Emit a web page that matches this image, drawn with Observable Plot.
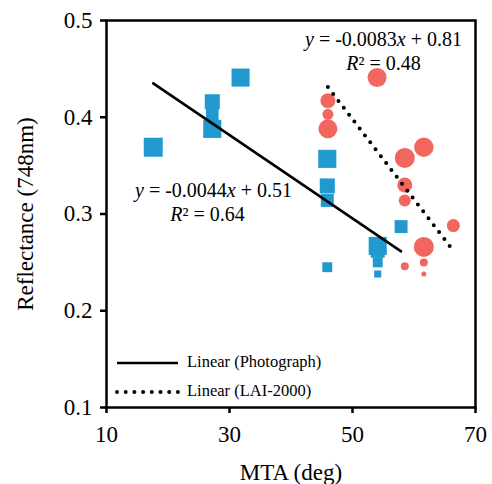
<!DOCTYPE html>
<html><head><meta charset="utf-8">
<script src="https://cdn.jsdelivr.net/npm/d3@7"></script>
<script src="https://cdn.jsdelivr.net/npm/@observablehq/plot@0.6"></script>
<style>
body{margin:0;background:#fff;}
#wrap{position:relative;width:492px;height:484px;font-family:"Liberation Serif","Times New Roman",serif;color:#000;}
#legend{position:absolute;left:115px;top:348px;font-size:16.5px;line-height:1;}
#legend .row{display:flex;align-items:center;height:29px;white-space:nowrap;}
#legend svg{width:66px;height:8px;margin-right:6px;overflow:visible;}
</style></head><body><div id="wrap"></div>
<script>
// Photograph series (blue squares)
const photoMTA   = [17.6, 27.2, 27.2, 27.2, 31.8, 45.9, 45.9, 45.9, 45.9, 54.1, 54.1, 54.1, 54.1, 57.9];
const photoRefl  = [0.369, 0.416, 0.403, 0.388, 0.441, 0.357, 0.329, 0.314, 0.245, 0.267, 0.262, 0.250, 0.238, 0.287];
const photoWeight= [10.7, 8.5, 7.1, 10.2, 10.2, 10.2, 8.5, 7.3, 5.6, 10.2, 7.9, 5.6, 4.0, 7.3];
// LAI-2000 series (red circles)
const laiMTA     = [54.0, 46.0, 46.0, 46.0, 58.5, 61.6, 58.5, 58.5, 61.6, 66.4, 61.6, 58.5, 61.6];
const laiRefl    = [0.441, 0.417, 0.403, 0.388, 0.358, 0.369, 0.330, 0.314, 0.266, 0.288, 0.250, 0.246, 0.238];
const laiWeight  = [9.5, 7.5, 5.5, 9.5, 10, 9.7, 7.5, 6, 10, 6.5, 4, 4, 2.5];
// Linear trend lines
const trendNames      = ["Linear (Photograph)", "Linear (LAI-2000)"];
const trendSlopes     = [-0.00431, -0.00829];
const trendIntercepts = [0.5109, 0.8125];
const trendEquations  = ["y = -0.0044x + 0.51", "y = -0.0083x + 0.81"];
const trendR2         = ["R² = 0.64", "R² = 0.48"];
// Axes
const xTicks = [10, 30, 50, 70];
const yTicks = [0.1, 0.2, 0.3, 0.4, 0.5];
const xTitle = "MTA (deg)";
const yTitle = "Reflectance (748nm)";

const BLUE = "#2199ce", RED = "#f1665f";

const photo = photoMTA.map((x, i) => ({x, y: photoRefl[i], w: photoWeight[i]}));
const lai = laiMTA.map((x, i) => ({x, y: laiRefl[i], w: laiWeight[i]}));
function trend(data, k) {
  const [x0, x1] = d3.extent(data, d => d.x);
  return [x0, x1].map(x => ({x, y: trendSlopes[k] * x + trendIntercepts[k]}));
}
const trendPhoto = trend(photo, 0);
const trendLai = trend(lai, 1);

const eqOpts = {frameAnchor: "top-left", textAnchor: "middle", lineAnchor: "middle", text: d => d, fontSize: 20, className: "eq"};

const plot = Plot.plot({
  width: 492, height: 484,
  marginLeft: 106, marginRight: 17, marginTop: 20, marginBottom: 77,
  style: {fontFamily: "'Liberation Serif','Times New Roman',serif", background: "#fff", color: "#000"},
  x: {domain: [10, 70]},
  y: {domain: [0.1, 0.5]},
  r: {type: "linear", domain: [0, 10], range: [0, 10]},
  marks: [
    Plot.dot(photo, {x: "x", y: "y", r: "w", symbol: "square", fill: BLUE}),
    Plot.dot(lai, {x: "x", y: "y", r: "w", symbol: "circle", fill: RED}),
    Plot.line(trendPhoto, {x: "x", y: "y", stroke: "#000", strokeWidth: 2.6}),
    Plot.line(trendLai, {x: "x", y: "y", stroke: "#000", strokeWidth: 4, strokeDasharray: "0 8.7", strokeLinecap: "round"}),
    Plot.text([trendEquations[0]], {...eqOpts, dx: 107, dy: 170}),
    Plot.text([trendR2[0]], {...eqOpts, dx: 101, dy: 194}),
    Plot.text([trendEquations[1]], {...eqOpts, dx: 277, dy: 19}),
    Plot.text([trendR2[1]], {...eqOpts, dx: 277, dy: 43.5}),
    Plot.frame({stroke: "#000", strokeWidth: 2.5}),
    Plot.axisX({ticks: xTicks, tickSize: 6, tickPadding: 12, fontSize: 23, strokeWidth: 2.5,
      label: xTitle, labelAnchor: "center", labelArrow: "none", labelOffset: 72}),
    Plot.axisY({ticks: yTicks, tickSize: 6, tickPadding: 8, fontSize: 23, strokeWidth: 2.5,
      tickFormat: d => d.toFixed(1),
      label: yTitle, labelAnchor: "center", labelArrow: "none", labelOffset: 90})
  ]
});

// italic variables in equations
plot.querySelectorAll(".eq text").forEach(t => {
  t.innerHTML = t.textContent.replace(/([xyR])/g, '<tspan font-style="italic">$1</tspan>');
});

const wrap = document.getElementById("wrap");
wrap.appendChild(plot);

// legend inside plot area
const legend = document.createElement("div");
legend.id = "legend";
trendNames.forEach((name, k) => {
  const row = document.createElement("div");
  row.className = "row";
  const dotted = k === 1;
  row.innerHTML = `<svg><line x1="2" x2="63" y1="4" y2="4" stroke="#000" stroke-width="${dotted ? 4 : 2.6}" ${dotted ? 'stroke-dasharray="0 8.7" stroke-linecap="round"' : ''}/></svg><span>${name}</span>`;
  legend.appendChild(row);
});
wrap.appendChild(legend);
</script>
</body></html>
